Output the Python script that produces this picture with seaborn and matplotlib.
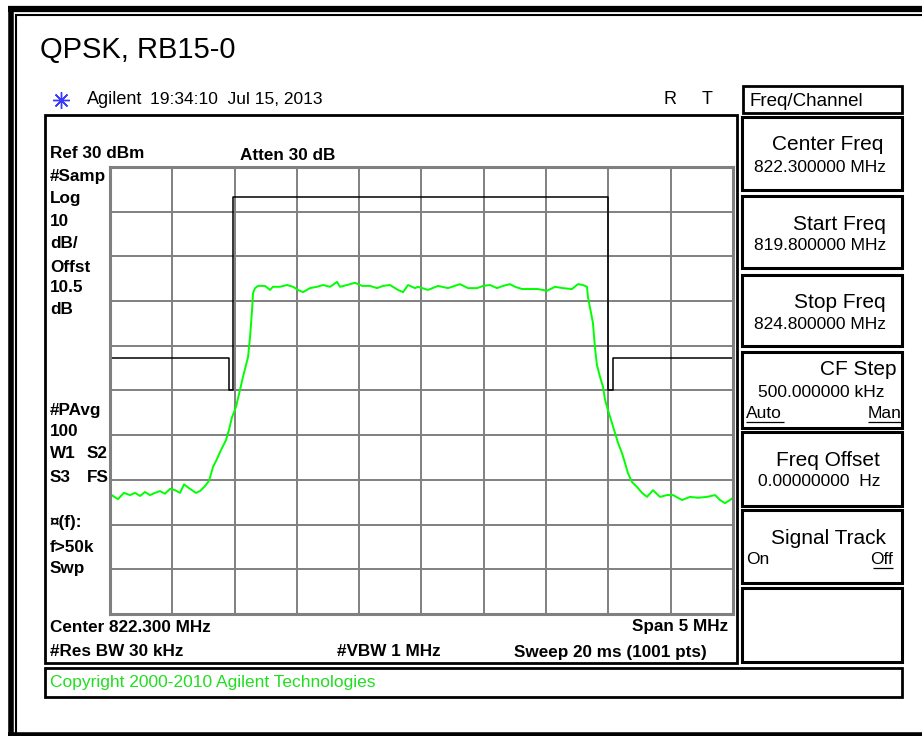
import numpy as np
import pandas as pd
import matplotlib
matplotlib.use('Agg')
from matplotlib import pyplot as plt
from matplotlib.patches import Rectangle
from matplotlib.lines import Line2D
import seaborn as sns

# trace (MHz, dBm)
trace_freq = [819.800, 819.824, 819.864, 819.912, 819.961, 820.001, 820.041, 820.081,
              820.121, 820.161, 820.201, 820.241, 820.282, 820.322, 820.362, 820.394,
              820.442, 820.490, 820.522, 820.562, 820.595, 820.627, 820.659, 820.691,
              820.731, 820.755, 820.779, 820.811, 820.843, 820.867, 820.908, 820.924,
              820.940, 820.948, 820.964, 820.988, 821.044, 821.084, 821.108, 821.164,
              821.221, 821.269, 821.309, 821.349, 821.405, 821.461, 821.510, 821.566,
              821.622, 821.646, 821.702, 821.766, 821.823, 821.887, 821.943, 821.991,
              822.047, 822.111, 822.152, 822.192, 822.248, 822.272, 822.352, 822.433,
              822.513, 822.609, 822.673, 822.746, 822.794, 822.850, 822.906, 822.954,
              823.010, 823.051, 823.107, 823.171, 823.235, 823.307, 823.371, 823.436,
              823.508, 823.556, 823.596, 823.628, 823.636, 823.676, 823.692, 823.708,
              823.733, 823.757, 823.773, 823.797, 823.829, 823.853, 823.877, 823.909,
              823.933, 823.957, 823.990, 824.030, 824.070, 824.110, 824.158, 824.214,
              824.270, 824.319, 824.391, 824.455, 824.519, 824.591, 824.656, 824.696,
              824.736, 824.776, 824.800]
trace_level = [-43.1, -43.6, -44.3, -42.9, -43.4, -42.9, -43.6, -42.7,
               -43.4, -42.9, -42.5, -43.1, -42.0, -42.3, -42.9, -41.0,
               -42.0, -42.9, -42.5, -41.4, -40.2, -37.1, -35.3, -33.3,
               -31.1, -28.8, -26.0, -23.7, -19.9, -17.0, -12.5, -8.0,
               -2.0, 1.8, 2.9, 3.4, 3.4, 2.5, 3.2, 3.2,
               3.6, 3.2, 2.5, 2.0, 2.9, 3.2, 3.6, 3.2,
               4.3, 3.2, 3.6, 4.1, 3.4, 3.4, 2.9, 3.4,
               3.6, 2.5, 2.0, 3.6, 2.9, 3.2, 2.5, 3.4,
               2.9, 3.8, 2.9, 2.9, 3.4, 3.6, 2.9, 3.4,
               3.8, 3.2, 2.7, 2.7, 2.7, 2.3, 3.2, 2.9,
               2.7, 3.8, 3.6, 3.2, 0.9, -4.9, -10.3, -14.3,
               -17.0, -19.2, -22.1, -24.4, -27.3, -29.5, -31.7, -34.0,
               -36.2, -38.5, -40.5, -41.6, -42.9, -43.8, -42.3, -43.8,
               -43.4, -43.4, -44.5, -43.8, -44.0, -43.8, -43.4, -44.5,
               -45.2, -44.5, -44.0]

# limit mask
limit_freq = [819.800, 820.755, 820.755, 820.787, 820.787, 823.800, 823.800, 823.835, 823.835, 824.800]
limit_level = [-12.8, -12.8, -19.9, -19.9, 23.3, 23.3, -19.9, -19.9, -12.8, -12.8]

left_labels = ["#Samp", "Log", "10", "dB/", "Offst", "10.5", "dB"]
left_labels_y = [177, 199, 222, 244, 267, 288, 309]
left_labels2 = ["#PAvg", "100"]
left_labels2_y = [410, 431]
left_labels3 = ["¤(f):", "f>50k", "Swp"]
left_labels3_y = [523, 547, 569]

W, H = 922, 736


def fx(x):
    return x / W


def fy(y):
    return 1 - y / H


sns.set_style("white")
plt.rcParams['font.family'] = ['Liberation Sans', 'DejaVu Sans']
fig = plt.figure(figsize=(W / 100, H / 100), dpi=100)


def label(x, y, s, size=12, weight='normal', ha='left', color='black'):
    fig.text(fx(x), fy(y), s, fontsize=size, fontweight=weight, ha=ha, va='center', color=color)


def box(x0, y0, x1, y1, lw=2.0, color='black'):
    fig.add_artist(Rectangle((fx(x0), fy(y1)), (x1 - x0) / W, (y1 - y0) / H,
                             transform=fig.transFigure, fill=False, lw=lw, ec=color))


def hline(x0, x1, y, lw=1.0, color='black'):
    fig.add_artist(Line2D([fx(x0), fx(x1)], [fy(y), fy(y)], transform=fig.transFigure,
                          lw=lw, color=color, solid_capstyle='butt'))


def vline(x, y0, y1, lw=1.0, color='black'):
    fig.add_artist(Line2D([fx(x), fx(x)], [fy(y0), fy(y1)], transform=fig.transFigure,
                          lw=lw, color=color, solid_capstyle='butt'))


# graticule
ax = fig.add_axes([fx(110), fy(614), (733 - 110) / W, (614 - 167) / H])
df = pd.DataFrame({'freq': trace_freq, 'level': trace_level})
lim = pd.DataFrame({'freq': limit_freq, 'level': limit_level})
sns.lineplot(data=lim, x='freq', y='level', sort=False, estimator=None, color='black', lw=1.1, ax=ax)
sns.lineplot(data=df, x='freq', y='level', sort=False, estimator=None, color='#00ff00', lw=1.4, ax=ax)
ax.set_xlim(819.8, 824.8)
ax.set_ylim(-70, 30)
ax.set_xticks(np.arange(819.8, 824.81, 0.5))
ax.set_yticks(np.arange(-70, 31, 10))
ax.grid(True, color='#808080', lw=1.4)
ax.tick_params(length=0, labelbottom=False, labelleft=False)
ax.set_xlabel('')
ax.set_ylabel('')
for sp in ax.spines.values():
    sp.set_color('#808080')
    sp.set_linewidth(2.2)

# outer frame
hline(8, 922, 9, lw=4.5)
hline(15, 922, 15, lw=1.5)
vline(10.5, 6, 736, lw=4.0)
vline(16, 14, 733, lw=1.5)
hline(8, 922, 735, lw=4.0)

# screen boxes
box(45, 115, 737, 663, lw=2.0)
box(45, 668, 902, 697, lw=2.0)
box(743, 86, 902, 113, lw=2.0)
for y0, y1 in [(117, 190), (196, 268), (275, 346), (352, 428), (432, 506), (510, 583), (588, 662)]:
    box(742, y0, 902, y1, lw=2.2)

# header
label(40, 50, "QPSK, RB15-0", size=21)
fig.add_artist(Line2D([fx(61)], [fy(100)], transform=fig.transFigure, marker=(8, 2, 0),
                      markersize=12, color='#3a3aff', mew=1.0, lw=0))
label(87, 100, "Agilent", size=13)
label(150, 100, "19:34:10  Jul 15, 2013", size=12.5)
label(663, 100, "R", size=13)
label(702, 100, "T", size=13)

# left annotations
bsize = 12.3
label(50, 154, "Ref 30 dBm", size=bsize, weight='bold')
label(240, 155, "Atten 30 dB", size=bsize, weight='bold')
for s, y in zip(left_labels + left_labels2 + left_labels3, left_labels_y + left_labels2_y + left_labels3_y):
    label(50, y, s, size=bsize, weight='bold')
label(50, 454, "W1", size=bsize, weight='bold')
label(87, 454, "S2", size=bsize, weight='bold')
label(50, 477, "S3", size=bsize, weight='bold')
label(87, 477, "FS", size=bsize, weight='bold')

# bottom annotations
label(50, 627, "Center 822.300 MHz", size=bsize, weight='bold')
label(728, 627, "Span 5 MHz", size=bsize, weight='bold', ha='right')
label(50, 652, "#Res BW 30 kHz", size=bsize, weight='bold')
label(337, 652, "#VBW 1 MHz", size=bsize, weight='bold')
label(707, 652, "Sweep 20 ms (1001 pts)", size=bsize, weight='bold', ha='right')
label(50, 683, "Copyright 2000-2010 Agilent Technologies", size=12.5, color='#22dd22')

# softkeys
ksize = 15
vsize = 12.5
label(749, 101, "Freq/Channel", size=13.5)
label(883, 145, "Center Freq", size=ksize, ha='right')
label(886, 168, "822.300000 MHz", size=vsize, ha='right')
label(886, 224, "Start Freq", size=ksize, ha='right')
label(886, 246, "819.800000 MHz", size=vsize, ha='right')
label(886, 302, "Stop Freq", size=ksize, ha='right')
label(886, 324, "824.800000 MHz", size=vsize, ha='right')
label(896, 370, "CF Step", size=ksize, ha='right')
label(884, 393, "500.000000 kHz", size=vsize, ha='right')
label(746, 414, "Auto", size=vsize)
label(901, 414, "Man", size=vsize, ha='right')
hline(746, 784, 422, lw=0.9)
hline(868, 901, 422, lw=0.9)
label(880, 460, "Freq Offset", size=ksize, ha='right')
label(880, 482, "0.00000000  Hz", size=vsize, ha='right')
label(886, 538, "Signal Track", size=ksize, ha='right')
label(746, 560, "On", size=vsize)
label(893, 560, "Off", size=vsize, ha='right')
hline(873, 893, 568, lw=0.9)

fig.savefig('out.png', dpi=100)
